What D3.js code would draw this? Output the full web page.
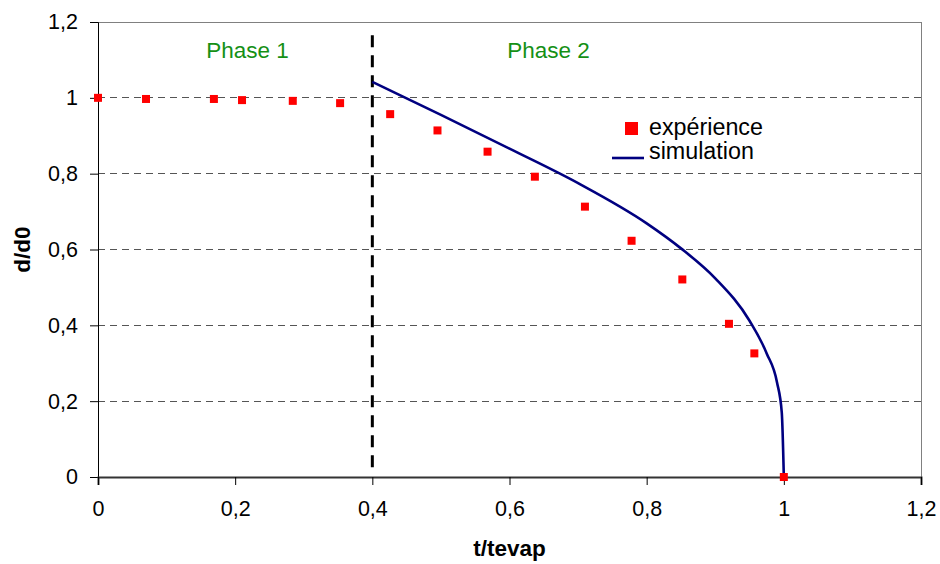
<!DOCTYPE html>
<html><head><meta charset="utf-8">
<script src="https://cdn.jsdelivr.net/npm/d3@7"></script>
<style>
html,body{margin:0;padding:0;background:#fff;}
svg text{font-family:"Liberation Sans",Arial,sans-serif;}
</style></head>
<body>
<svg id="chart" width="940" height="564"></svg>
<script>
// Data
const expT = [0, 0.070, 0.169, 0.210, 0.284, 0.353, 0.426, 0.495, 0.568, 0.637, 0.710, 0.778, 0.852, 0.920, 0.957, 1.0];
const expD = [1.0, 0.997, 0.997, 0.994, 0.992, 0.986, 0.957, 0.914, 0.858, 0.792, 0.713, 0.623, 0.521, 0.404, 0.326, 0.0];
const simT = [0.4, 0.5, 0.6, 0.7, 0.8, 0.85, 0.9, 0.95, 0.975, 0.99, 0.997, 1.0];
const simD = [1.042, 0.955, 0.866, 0.775, 0.669, 0.603, 0.524, 0.412, 0.326, 0.25, 0.17, 0.0];
const xTicks = [0, 0.2, 0.4, 0.6, 0.8, 1, 1.2];
const yTicks = [0, 0.2, 0.4, 0.6, 0.8, 1, 1.2];
const phaseBoundary = 0.4;
const phaseLabels = [{text: "Phase 1", t: 0.218}, {text: "Phase 2", t: 0.657}];
const legendItems = ["expérience", "simulation"];
const xTitle = "t/tevap";
const yTitle = "d/d0";

const svg = d3.select("#chart");
const L = 98, R = 921, T = 22, B = 477;
const x = d3.scaleLinear().domain([0, 1.2]).range([L, R]);
const y = d3.scaleLinear().domain([0, 1.2]).range([B, T]);
const fmt = d => String(d).replace(".", ",");

// gridlines
svg.append("g").selectAll("line").data(yTicks.filter(d => d > 0 && d < 1.2)).join("line")
  .attr("x1", L).attr("x2", R).attr("y1", d => y(d)).attr("y2", d => y(d))
  .attr("stroke", "#555").attr("stroke-width", 1).attr("stroke-dasharray", "7,5")
  .attr("shape-rendering", "crispEdges");
// plot-area border (top and right)
svg.append("path").attr("d", `M${L},${y(1.2)}H${R}V${B}`)
  .attr("fill", "none").attr("stroke", "#808080").attr("stroke-width", 1).attr("shape-rendering", "crispEdges");

// axes
const yAxis = svg.append("g").attr("transform", `translate(${L},0)`)
  .call(d3.axisLeft(y).tickValues(yTicks).tickFormat(fmt).tickSize(8).tickPadding(12));
const xAxis = svg.append("g").attr("transform", `translate(0,${B})`)
  .call(d3.axisBottom(x).tickValues(xTicks).tickFormat(fmt).tickSize(8).tickPadding(16));
[yAxis, xAxis].forEach(g => {
  g.selectAll("text").attr("font-size", 21.5).attr("fill", "#000").attr("font-family", "Liberation Sans, Arial, sans-serif");
  g.selectAll("line").attr("stroke", "#000");
  g.select(".domain").attr("stroke", "#000");
});
xAxis.select(".domain").attr("stroke", "#333").attr("stroke-width", 2);

// phase boundary
svg.append("line").attr("x1", x(phaseBoundary)).attr("x2", x(phaseBoundary))
  .attr("y1", y(1.165)).attr("y2", y(0.025))
  .attr("stroke", "#000").attr("stroke-width", 3).attr("stroke-dasharray", "12,8");

// phase labels
svg.append("g").selectAll("text").data(phaseLabels).join("text")
  .attr("x", d => x(d.t)).attr("y", 58).attr("text-anchor", "middle")
  .attr("font-size", 22.5).attr("fill", "#159015").text(d => d.text);

// simulation curve
const simData = simT.map((t, i) => [t, simD[i]]);
svg.append("path").datum(simData)
  .attr("d", d3.line().x(d => x(d[0])).y(d => y(d[1])).curve(d3.curveMonotoneX))
  .attr("fill", "none").attr("stroke", "#000080").attr("stroke-width", 2.6);

// experiment points
const s = 8;
svg.append("g").selectAll("rect").data(expT.map((t, i) => [t, expD[i]])).join("rect")
  .attr("x", d => x(d[0]) - s / 2).attr("y", d => y(d[1]) - s / 2)
  .attr("width", s).attr("height", s).attr("fill", "#ff0000");

// legend
const lg = svg.append("g");
lg.append("rect").attr("x", 625).attr("y", 122).attr("width", 13).attr("height", 13).attr("fill", "#ff0000");
lg.append("line").attr("x1", 612).attr("x2", 644).attr("y1", 158).attr("y2", 158)
  .attr("stroke", "#000080").attr("stroke-width", 2.6);
lg.selectAll("text").data(legendItems).join("text")
  .attr("x", 649).attr("y", (d, i) => 135 + i * 24)
  .attr("font-size", 23.3).attr("fill", "#000").text(d => d);

// axis titles
svg.append("text").attr("x", x(0.6)).attr("y", 556).attr("text-anchor", "middle")
  .attr("font-size", 22.5).attr("font-weight", "bold").text(xTitle);
svg.append("text").attr("transform", `translate(30,${y(0.6)}) rotate(-90)`).attr("text-anchor", "middle")
  .attr("font-size", 22.5).attr("font-weight", "bold").text(yTitle);
</script>
</body></html>
